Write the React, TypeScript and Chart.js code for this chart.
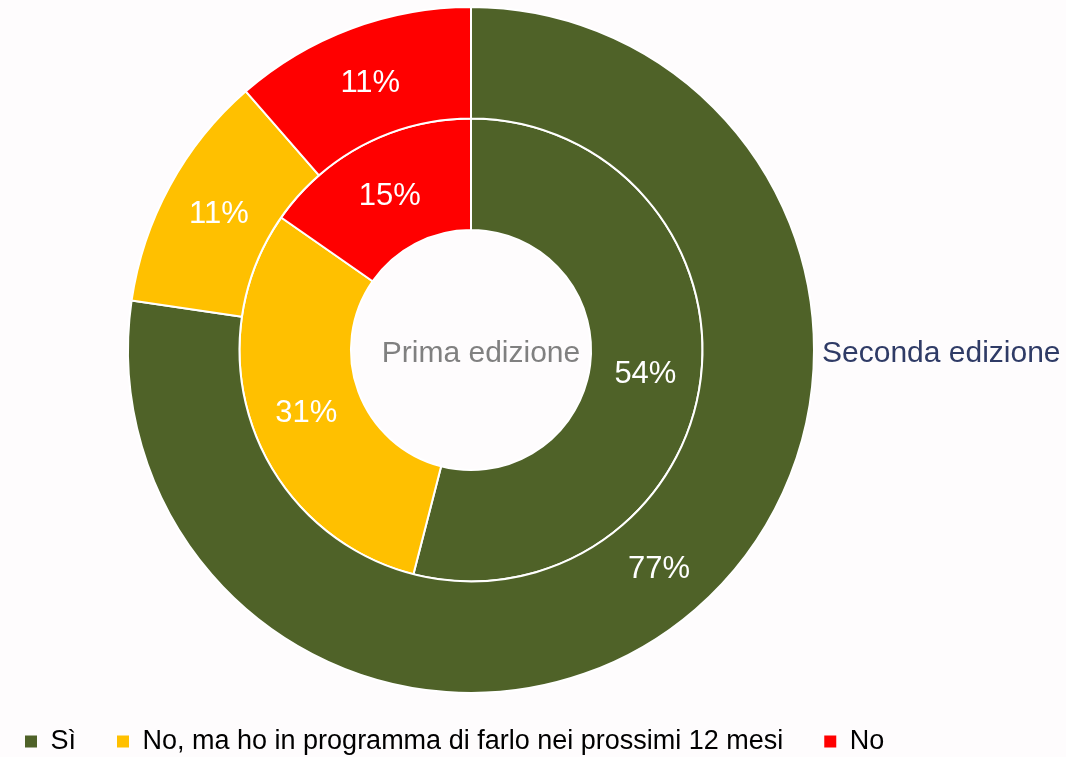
import React, { useEffect, useRef } from "react";
import { Chart, registerables } from "chart.js";

Chart.register(...registerables);

const categories = ["Sì", "No, ma ho in programma di farlo nei prossimi 12 mesi", "No"];
const colors = ["#4F6228", "#FFC000", "#FF0000"];
const secondaEdizione = [77.3, 11.3, 11.4];
const primaEdizione = [54.0, 30.7, 15.3];
const ringTitles = ["Seconda edizione", "Prima edizione"];

const FONT = "'Liberation Sans', Arial, sans-serif";

const CANVAS_LEFT = -16;
const CANVAS_W = 1082;
const CANVAS_H = 765;

const labelsPlugin = {
  id: "ringLabels",
  afterDatasetsDraw(chart: any) {
    const ctx = chart.ctx;
    ctx.save();
    chart.data.datasets.forEach((ds: any, di: number) => {
      const meta = chart.getDatasetMeta(di);
      meta.data.forEach((arc: any, i: number) => {
        const p = arc.tooltipPosition();
        ctx.fillStyle = "#FFFFFF";
        ctx.font = `31px ${FONT}`;
        ctx.textAlign = "center";
        ctx.textBaseline = "middle";
        ctx.fillText(Math.round(ds.data[i]) + "%", p.x, p.y + 2);
      });
    });
    const outer = chart.getDatasetMeta(0).data[0];
    const cx = outer.x;
    const cy = outer.y;
    ctx.font = `30px ${FONT}`;
    ctx.textBaseline = "middle";
    ctx.textAlign = "center";
    ctx.fillStyle = "#808080";
    ctx.fillText(ringTitles[1], cx + 10, cy + 4);
    ctx.textAlign = "left";
    ctx.fillStyle = "#2F3B66";
    ctx.fillText(ringTitles[0], cx + outer.outerRadius + 8, cy + 4);
    ctx.restore();
  },
};

export default function App() {
  const ref = useRef<HTMLCanvasElement>(null);
  useEffect(() => {
    if (!ref.current) return;
    const chart = new Chart(ref.current, {
      type: "doughnut",
      data: {
        labels: categories,
        datasets: [
          {
            label: ringTitles[0],
            data: secondaEdizione,
            backgroundColor: colors,
            borderColor: "#FFFFFF",
            borderWidth: 2,
            clip: false as any,
          },
          {
            label: ringTitles[1],
            data: primaEdizione,
            backgroundColor: colors,
            borderColor: "#FFFFFF",
            borderWidth: 2,
            clip: false as any,
          },
        ],
      },
      options: {
        responsive: false,
        animation: false,
        radius: 343,
        cutout: "35%",
        layout: { padding: { top: 13, left: 0, right: 108, bottom: 0 } },
        plugins: {
          tooltip: { enabled: false },
          legend: {
            position: "bottom",
            align: "start",
            labels: {
              boxWidth: 12,
              boxHeight: 12,
              padding: 41,
              color: "#000000",
              font: { size: 27, family: FONT },
              generateLabels: () =>
                categories.map((c, i) => ({
                  text: c,
                  fillStyle: colors[i],
                  strokeStyle: colors[i],
                  lineWidth: 0,
                  hidden: false,
                  index: i,
                })),
            },
          },
        },
      },
      plugins: [labelsPlugin],
    });
    return () => chart.destroy();
  }, []);
  return (
    <div
      style={{
        position: "fixed",
        left: 0,
        top: 0,
        width: 1066,
        height: 757,
        overflow: "hidden",
        background: "#FEFCFD",
      }}
    >
      <canvas
        ref={ref}
        width={CANVAS_W}
        height={CANVAS_H}
        style={{ position: "absolute", left: CANVAS_LEFT, top: 0, width: CANVAS_W, height: CANVAS_H }}
      />
    </div>
  );
}
